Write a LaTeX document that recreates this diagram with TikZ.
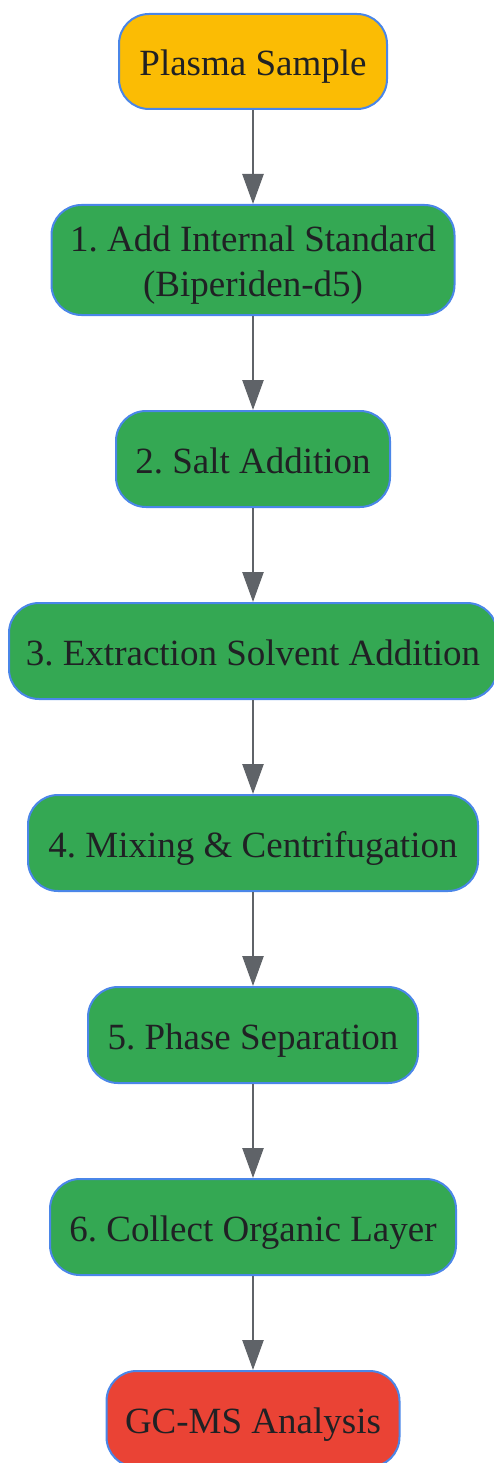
\documentclass[tikz,border=0pt]{standalone}
\usepackage{fontspec}
\setmainfont{Liberation Serif}
\usetikzlibrary{arrows.meta}
\definecolor{bordblue}{HTML}{4A86E8}
\definecolor{fillyellow}{HTML}{FBBC04}
\definecolor{fillgreen}{HTML}{34A853}
\definecolor{fillred}{HTML}{EA4335}
\definecolor{txt}{HTML}{202124}
\definecolor{arr}{HTML}{5F6368}
\tikzset{
  stepbox/.style={draw=bordblue, line width=2pt, rounded corners=30pt,
    minimum height=96pt, inner sep=0pt, text=txt, align=center,
    text height=28pt, text depth=0pt,
    font=\frenchspacing\fontsize{37}{45}\selectfont},
  flow/.style={draw=arr, line width=2.5pt, -{Triangle[length=30pt,width=21pt]}}
}
\begin{document}
\begin{tikzpicture}[x=1pt,y=-1pt]
\useasboundingbox (0,0) rectangle (494,1463);
\node[stepbox, fill=fillyellow, minimum width=268pt, minimum height=95pt] (s) at (253,61.5) {Plasma Sample};
\node[stepbox, fill=fillgreen, minimum width=403pt, minimum height=110pt, text height=73pt, text depth=0pt] (n1) at (253,260) {1. Add Internal Standard\\(Biperiden-d5)};
\node[stepbox, fill=fillgreen, minimum width=274pt] (n2) at (253,459) {2. Salt Addition};
\node[stepbox, fill=fillgreen, minimum width=488pt] (n3) at (253,651) {3. Extraction Solvent Addition};
\node[stepbox, fill=fillgreen, minimum width=450pt] (n4) at (253,843) {4. Mixing \& Centrifugation};
\node[stepbox, fill=fillgreen, minimum width=330pt] (n5) at (253,1035) {5. Phase Separation};
\node[stepbox, fill=fillgreen, minimum width=406pt] (n6) at (253,1227) {6. Collect Organic Layer};
\node[stepbox, fill=fillred, minimum width=293pt] (gc) at (253,1419) {GC-MS Analysis};
\draw[flow] (s) -- (n1);
\draw[flow] (n1) -- (n2);
\draw[flow] (n2) -- (n3);
\draw[flow] (n3) -- (n4);
\draw[flow] (n4) -- (n5);
\draw[flow] (n5) -- (n6);
\draw[flow] (n6) -- (gc);
\end{tikzpicture}
\end{document}
